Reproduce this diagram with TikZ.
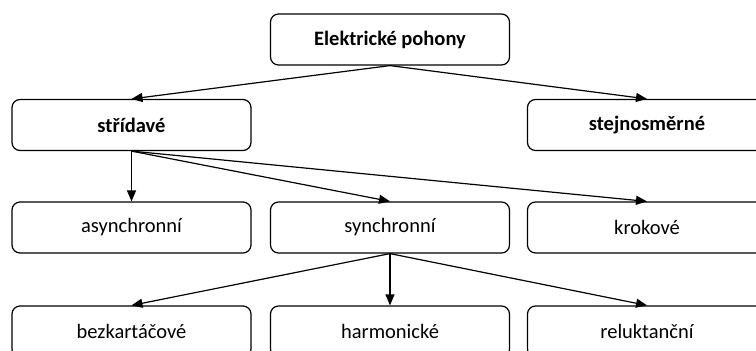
\documentclass[tikz,border=0pt]{standalone}
\usepackage{fontspec}
\setmainfont{Carlito}
\usetikzlibrary{arrows.meta}
\begin{document}
\begin{tikzpicture}[x=1pt,y=1pt,
  box/.style={draw=black, line width=1.2pt, rounded corners=8pt, minimum width=239pt, minimum height=51pt, inner sep=0pt, font=\fontsize{20.5}{24}\selectfont},
  boldbox/.style={box, font=\fontsize{20.5}{24}\selectfont\bfseries},
  arr/.style={draw=black, line width=1.2pt, -{Triangle[length=11pt,width=9pt]}}]
\useasboundingbox (0,0) rectangle (756,-351);
\clip (0,0) rectangle (756,-351);
\node[boldbox] (root) at (390,-39.5) {Elektrické pohony};
\node[boldbox] (ac) at (131.5,-125) {střídavé};
\node[boldbox] (dc) at (647,-125) {stejnosměrné};
\node[box] (async) at (131.5,-227.5) {asynchronní};
\node[box] (sync) at (390,-227.5) {synchronní};
\node[box] (step) at (647,-227.5) {krokové};
\node[box] (bk) at (131.5,-331.5) {bezkartáčové};
\node[box] (harm) at (390,-331.5) {harmonické};
\node[box] (rel) at (647,-331.5) {reluktanční};
\draw[arr] (root.south) -- (ac.north);
\draw[arr] (root.south) -- (dc.north);
\draw[arr] (ac.south) -- (async.north);
\draw[arr] (ac.south) -- (sync.north);
\draw[arr] (ac.south) -- (step.north);
\draw[arr] (sync.south) -- (bk.north);
\draw[arr] (sync.south) -- (harm.north);
\draw[arr] (sync.south) -- (rel.north);
\end{tikzpicture}
\end{document}
